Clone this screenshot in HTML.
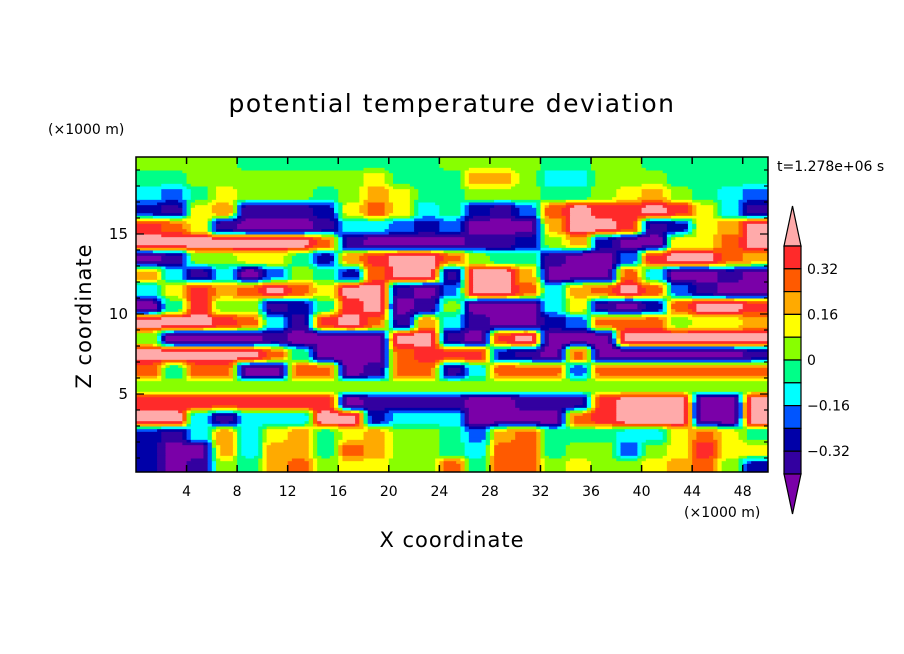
<!DOCTYPE html>
<html><head><meta charset="utf-8"><style>
body{margin:0;background:#fff;}
svg{display:block;font-family:"DejaVu Sans","Liberation Sans",sans-serif;}
</style></head><body>
<svg id="chart" width="904" height="654" viewBox="0 0 904 654">
<rect width="904" height="654" fill="#fff"/>
<text x="452" y="112" font-size="25" text-anchor="middle" letter-spacing="1.5">potential temperature deviation</text>
<text x="48" y="134" font-size="14">(×1000 m)</text>
<text x="777" y="171" font-size="14">t=1.278e+06 s</text>
<text transform="translate(91,316) rotate(-90)" font-size="21" text-anchor="middle" letter-spacing="1">Z coordinate</text>
<text x="452" y="547" font-size="21" text-anchor="middle" letter-spacing="1">X coordinate</text>
<text x="684" y="517" font-size="14">(×1000 m)</text>
<g id="field"></g>
<g id="axes"></g>
<g id="cbar"></g>
</svg>
<script>
// potential temperature deviation, in 0.01 K; rows from z=19-20 km (top) to z=0-1 km (bottom), columns 2 km wide
const zRow19=[4,4,4,4,-4,-4,-4,-4,-4,-4,-4,-4,4,4,4,4,-4,-4,4,4,-4,-4,-4,-4,-4];
const zRow18=[-4,-4,4,4,4,4,4,4,4,12,-4,-4,-4,20,20,4,-12,-12,4,4,4,-4,-4,-4,-4];
const zRow17=[-12,-20,-4,12,4,4,4,-4,4,20,12,-4,-4,4,4,4,-4,-4,4,12,20,4,-4,-12,-20];
const zRow16=[-28,-36,12,20,-36,-36,-36,-28,12,28,12,-12,-4,-28,-36,-20,28,44,36,36,44,36,12,-12,-36];
const zRow15=[36,28,12,-36,-44,-44,-44,-36,-12,-12,-20,-28,-20,-44,-44,-44,20,44,44,36,-36,-28,12,20,44];
const zRow14=[44,44,44,44,44,44,44,28,-36,-44,-44,-44,-44,-36,-36,-28,4,20,-28,-44,-44,12,12,28,44];
const zRow13=[-44,-36,4,4,12,12,-4,-28,20,36,44,44,28,4,-4,-4,-36,-44,-44,-20,36,44,44,28,20];
const zRow12=[20,-12,-36,-12,-44,-20,4,-4,-28,28,44,44,-36,44,44,20,-44,-44,-44,28,-12,-44,-44,-36,-44];
const zRow11=[-12,12,36,20,28,44,28,12,44,44,-36,-44,-20,44,44,28,-12,20,28,44,28,-20,-36,-44,-44];
const zRow10=[-44,-4,36,4,4,-36,-28,-4,36,44,-44,-36,4,-44,-44,-44,-12,12,-36,-44,-28,28,44,44,36];
const zRow9=[44,44,44,36,28,-12,-36,36,44,28,-36,20,-12,-36,-44,-44,-28,-20,28,28,28,4,12,12,20];
const zRow8=[4,-44,-44,-44,-44,-36,-44,-44,-44,-44,44,44,-36,-44,36,44,-44,-44,-44,44,44,44,44,44,44];
const zRow7=[44,44,44,44,44,28,-4,-44,-44,-44,28,36,36,36,-28,-36,-44,28,-44,-44,-44,-44,-44,-44,-36];
const zRow6=[28,-4,28,28,-44,-44,28,28,-44,-36,28,28,-36,-12,28,28,28,-20,28,28,28,28,28,28,28];
const zRow5=[4,4,4,4,4,4,4,4,4,4,4,4,4,4,4,4,4,4,4,4,4,4,4,4,4];
const zRow4=[36,36,36,36,36,36,36,36,-44,-36,-36,-36,-36,-44,-44,-36,-36,-36,36,44,44,44,-44,-44,44];
const zRow3=[44,44,-12,-36,-12,-12,-12,44,44,-28,-12,-12,-12,-44,-44,-44,-44,28,36,44,44,44,-44,-44,44];
const zRow2=[-28,-36,-12,20,-12,12,20,-4,12,20,4,4,-4,-20,20,28,-4,-4,-4,-12,-12,12,28,12,-4];
const zRow1=[-28,-44,-44,20,-12,20,20,-4,28,20,4,4,-4,-12,28,28,-4,4,4,-20,4,12,36,12,12];
const zRow0=[-28,-44,-36,4,-4,20,28,4,12,12,4,4,28,-4,28,28,4,12,4,4,12,20,28,4,-28];
const rowsTopDown=[zRow19,zRow18,zRow17,zRow16,zRow15,zRow14,zRow13,zRow12,zRow11,zRow10,zRow9,zRow8,zRow7,zRow6,zRow5,zRow4,zRow3,zRow2,zRow1,zRow0];
const levels=[-0.40,-0.32,-0.24,-0.16,-0.08,0,0.08,0.16,0.24,0.32,0.40];
const cbarLabels=["0.32","0.16","0","-0.16","-0.32"];
const cbarLabelValues=[0.32,0.16,0,-0.16,-0.32];
const xTicks=[4,8,12,16,20,24,28,32,36,40,44,48];
const zTicks=[5,10,15];
const colors=["#7a00a8","#3300a0","#0000a8","#0055ff","#00ffff","#00ff88","#88ff00","#ffff00","#ffaa00","#ff5a00","#ff2a2a","#ffaaaa"];

const NS="http://www.w3.org/2000/svg";
const X0=136,X1=768,Y0=157,Y1=472;
const xMax=50,zTop=19.81,cellKm=2,cellZ=1;
const sx=v=>X0+(v/xMax)*(X1-X0);
const sz=v=>474-v*16;
function colorFor(v){let i=0;while(i<levels.length&&v>=levels[i])i++;return colors[i];}
function mk(tag,attrs,parent){const e=document.createElementNS(NS,tag);for(const k in attrs)e.setAttribute(k,attrs[k]);parent.appendChild(e);return e;}

const nRows=rowsTopDown.length, nCols=rowsTopDown[0].length;
const ease=t=>{t=t*t*(3-2*t);return t*t*(3-2*t);};
function valueAt(xk,zk){
  let fx=xk/cellKm-0.5, fz=zk/cellZ-0.5;
  fx=Math.max(0,Math.min(nCols-1,fx)); fz=Math.max(0,Math.min(nRows-1,fz));
  const i0=Math.floor(fx), j0=Math.floor(fz);
  const i1=Math.min(nCols-1,i0+1), j1=Math.min(nRows-1,j0+1);
  const tx=ease(fx-i0), tz=ease(fz-j0);
  const row=j=>rowsTopDown[nRows-1-j];
  const a=row(j0)[i0]*(1-tx)+row(j0)[i1]*tx;
  const b=row(j1)[i0]*(1-tx)+row(j1)[i1]*tx;
  return (a*(1-tz)+b*tz)/100;
}
const field=document.getElementById('field');
const SUB=6;
const stepX=cellKm/SUB, stepZ=cellZ/SUB;
const nx=Math.round(xMax/stepX);
for(let zk=0; zk<zTop; zk+=stepZ){
  const zHi=Math.min(zk+stepZ,zTop);
  const yA=Math.max(sz(zHi),Y0), yB=Math.min(sz(zk),Y1);
  let runStart=0, runColor=null;
  for(let i=0;i<=nx;i++){
    const c = i<nx ? colorFor(valueAt((i+0.5)*stepX,(zk+zHi)/2)) : null;
    if(c!==runColor){
      if(runColor!==null){
        const xa=sx(runStart*stepX), xb=sx(i*stepX);
        const r=mk('rect',{x:xa,y:yA,width:xb-xa+0.5,height:yB-yA+0.5,fill:runColor},field);
        
        
      }
      runStart=i; runColor=c;
    }
  }
}

const axes=document.getElementById('axes');
const frame=mk('rect',{x:X0,y:Y0,width:X1-X0,height:Y1-Y0,fill:'none',stroke:'#000','stroke-width':1.5},axes);


xTicks.forEach((t,i)=>{
  const x=sx(t);
  mk('line',{x1:x,y1:Y1,x2:x,y2:Y1-7,stroke:'#000','stroke-width':1.5},axes);
  mk('line',{x1:x,y1:Y0,x2:x,y2:Y0+7,stroke:'#000','stroke-width':1.5},axes);
  const tx=mk('text',{x:x,y:496,'font-size':14,'text-anchor':'middle'},axes);
  tx.textContent=String(t);
  
  
});
for(let z=1;z<20;z++){
  const y=sz(z),len=(z%5===0)?8:4;
  mk('line',{x1:X0,y1:y,x2:X0+len,y2:y,stroke:'#000','stroke-width':1.2},axes);
  mk('line',{x1:X1,y1:y,x2:X1-len,y2:y,stroke:'#000','stroke-width':1.2},axes);
}
zTicks.forEach(t=>{
  const tx=mk('text',{x:128,y:sz(t)+5,'font-size':15,'text-anchor':'end'},axes);
  tx.textContent=String(t);
  
  
});

const cb=document.getElementById('cbar');
const CX0=784,CX1=801,CB0=246,CB1=474;
const nBox=levels.length-1, bh=(CB1-CB0)/nBox;
const cbTop=mk('polygon',{points:`${CX0},${CB0} ${CX1},${CB0} ${(CX0+CX1)/2},206`,fill:colors[colors.length-1],stroke:'#000','stroke-width':1.2},cb);


for(let i=0;i<nBox;i++){
  const b=mk('rect',{x:CX0,y:CB0+i*bh,width:CX1-CX0,height:bh,fill:colors[colors.length-2-i],stroke:'#000','stroke-width':1.2},cb);
  
  
}
const cbBot=mk('polygon',{points:`${CX0},${CB1} ${CX1},${CB1} ${(CX0+CX1)/2},514`,fill:colors[0],stroke:'#000','stroke-width':1.2},cb);


cbarLabels.forEach((lab,i)=>{
  const v=cbarLabelValues[i];
  const idx=levels.indexOf(v);
  const y=CB0+(levels.length-1-idx)*bh;
  const t=mk('text',{x:807,y:y+5,'font-size':14},cb);
  t.textContent=lab.replace('-','−');
  
  
});
</script>
</body></html>
